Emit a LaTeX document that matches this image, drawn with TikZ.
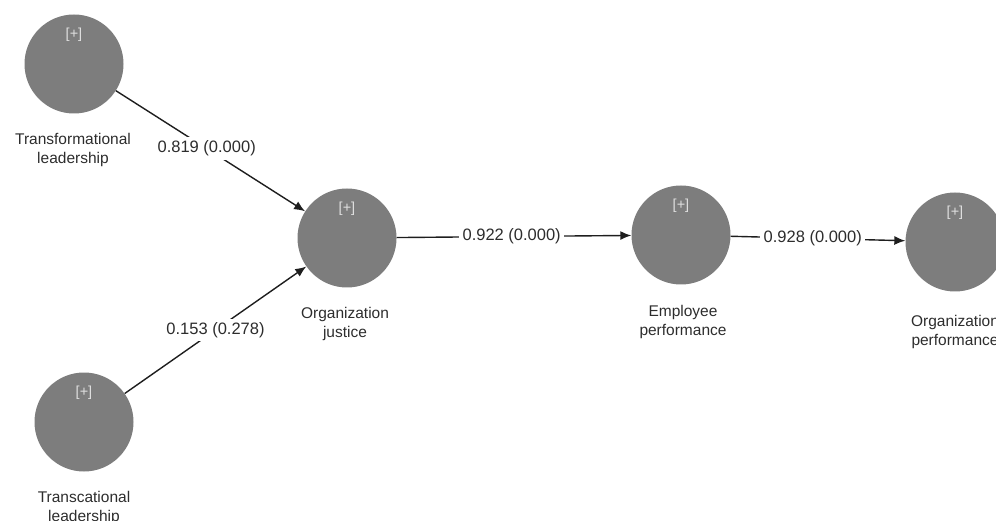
\documentclass[tikz,border=0pt]{standalone}
\usepackage{fontspec}
\setmainfont{Liberation Sans}
\usetikzlibrary{arrows.meta}
\definecolor{circfill}{RGB}{125,125,125}
\definecolor{plusc}{RGB}{222,222,222}
\definecolor{txtc}{RGB}{45,45,45}
\definecolor{linec}{RGB}{30,30,30}
\begin{document}
\begin{tikzpicture}[x=1pt,y=-1pt,
  latent/.style={circle,fill=circfill,draw=none,minimum size=99pt,inner sep=0pt,
    label={[anchor=north,yshift=-10pt,text=plusc,font=\fontsize{14.5}{16}\selectfont]north:{[+]}}},
  caption/.style={align=center,text=txtc,font=\fontsize{15.5}{19.5}\selectfont},
  path/.style={draw=linec,line width=1.4pt,-{Latex[length=11pt,width=9pt]}},
  coef/.style={fill=white,text=txtc,inner sep=3.5pt,font=\fontsize{16.5}{18}\selectfont}]
\useasboundingbox (0,0) rectangle (996,521);
\node[latent] (tl) at (74,64) {};
\node[latent] (tc) at (84,422) {};
\node[latent] (oj) at (347,238) {};
\node[latent] (ep) at (681,235) {};
\node[latent] (op) at (955,242) {};
\node[caption] (tltxt) at (73,150) {Transformational\\leadership};
\node[caption] (tctxt) at (84,508) {Transcational\\leadership};
\node[caption] (ojtxt) at (345,324) {Organization\\justice};
\node[caption] (eptxt) at (683,322) {Employee\\performance};
\node[caption] (optxt) at (955,332) {Organization\\performance};
\draw[path] (tl) -- node[coef,pos=0.48] (c1) {0.819 (0.000)} (oj);
\draw[path] (tc) -- node[coef,pos=0.50] (c2) {0.153 (0.278)} (oj);
\draw[path] (oj) -- node[coef,pos=0.49] (c3) {0.922 (0.000)} (ep);
\draw[path] (ep) -- node[coef,pos=0.47] (c4) {0.928 (0.000)} (op);
\end{tikzpicture}
\end{document}
